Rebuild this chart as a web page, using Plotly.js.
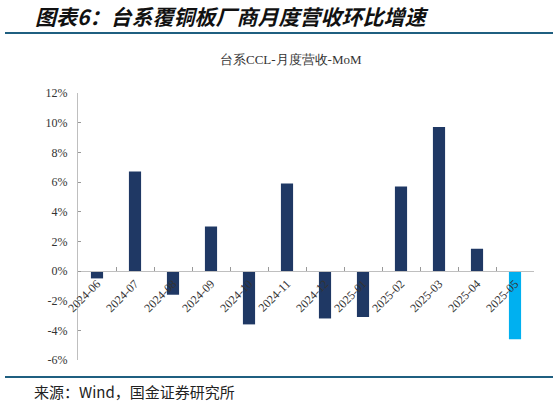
<!DOCTYPE html>
<html>
<head>
<meta charset="utf-8">
<script src="https://cdn.plot.ly/plotly-3.0.1.min.js"></script>
<style>
  html, body { margin: 0; padding: 0; background: #fff; }
  #chart { width: 559px; height: 404px; }
</style>
</head>
<body>
<div id="chart"></div>
<script>
//------------INPUT DATA------------
const months = [
  "2024-06", "2024-07", "2024-08", "2024-09", "2024-10", "2024-11",
  "2024-12", "2025-01", "2025-02", "2025-03", "2025-04", "2025-05",
];
// month-on-month revenue change, %
const momValues = [-0.5, 6.7, -1.6, 3.0, -3.6, 5.9, -3.2, -3.1, 5.7, 9.7, 1.5, -4.6];
const yTicks = [-6, -4, -2, 0, 2, 4, 6, 8, 10, 12];
const yTickText = yTicks.map((v) => v + "%");
//------------END INPUT DATA------------

const NAVY = "#1f3864";
const CYAN = "#00b0f0";
const SERIF = "Liberation Serif, DejaVu Serif, serif";
const CJK = "Noto Sans CJK SC, sans-serif";

// plot area in px: left 78, right 534, top 93, bottom 360
const L = 78, R = 534, T = 93, B = 360;
const px = (x) => (x - L) / (R - L);
const py = (y) => (B - y) / (B - T);

function drawChart() {
  // last month highlighted
  const barColors = months.map((m, i) => (i === months.length - 1 ? CYAN : NAVY));

  const trace = {
    x: months,
    y: momValues,
    type: "bar",
    hoverinfo: "none",
    marker: { color: barColors },
    width: 0.32,
  };

  const layout = {
    width: 559,
    height: 404,
    margin: { t: T, b: 404 - B, l: L, r: 559 - R },
    paper_bgcolor: "#fff",
    plot_bgcolor: "#fff",
    showlegend: false,
    font: { family: SERIF, size: 12, color: "#333" },
    xaxis: {
      type: "category",
      // axis sits on the 0% line
      anchor: "free",
      position: 1 / 3,
      showline: true,
      linecolor: "#bfbfbf",
      linewidth: 1,
      showgrid: false,
      zeroline: false,
      tickson: "boundaries",
      ticks: "inside",
      ticklen: 4,
      tickcolor: "#999",
      tickangle: -45,
      tickfont: { family: SERIF, size: 12, color: "#333" },
      range: [-0.5, months.length - 0.5],
    },
    yaxis: {
      range: [-6, 12],
      tickvals: yTicks,
      ticktext: yTickText,
      showline: true,
      linecolor: "#bfbfbf",
      linewidth: 1,
      showgrid: false,
      zeroline: false,
      ticks: "inside",
      ticklen: 3,
      tickcolor: "#999",
      ticklabelstandoff: 7,
      tickfont: { family: SERIF, size: 12, color: "#333" },
    },
    shapes: [
      {
        type: "line", xref: "paper", yref: "paper",
        x0: px(5), x1: px(553), y0: py(33), y1: py(33),
        line: { color: "#1f5f80", width: 2 },
      },
      {
        type: "line", xref: "paper", yref: "paper",
        x0: px(5), x1: px(553), y0: py(377), y1: py(377),
        line: { color: "#1f5f80", width: 2 },
      },
    ],
    annotations: [
      {
        text: "图表6：台系覆铜板厂商月度营收环比增速",
        xref: "paper", yref: "paper",
        x: px(33), y: py(16),
        xanchor: "left", yanchor: "middle",
        showarrow: false,
        font: { family: CJK, size: 21, color: "#111", weight: "bold", style: "italic" },
      },
      {
        text: "台系CCL-月度营收-MoM",
        xref: "paper", yref: "paper",
        x: px(291), y: py(59.5),
        xanchor: "center", yanchor: "middle",
        showarrow: false,
        font: { family: SERIF, size: 13, color: "#333" },
      },
      {
        text: "来源：Wind，国金证券研究所",
        xref: "paper", yref: "paper",
        x: px(32), y: py(391),
        xanchor: "left", yanchor: "middle",
        showarrow: false,
        font: { family: CJK, size: 15, color: "#222" },
      },
    ],
  };

  Plotly.newPlot("chart", [trace], layout, { displayModeBar: false, staticPlot: true });
}

drawChart();
</script>
</body>
</html>
